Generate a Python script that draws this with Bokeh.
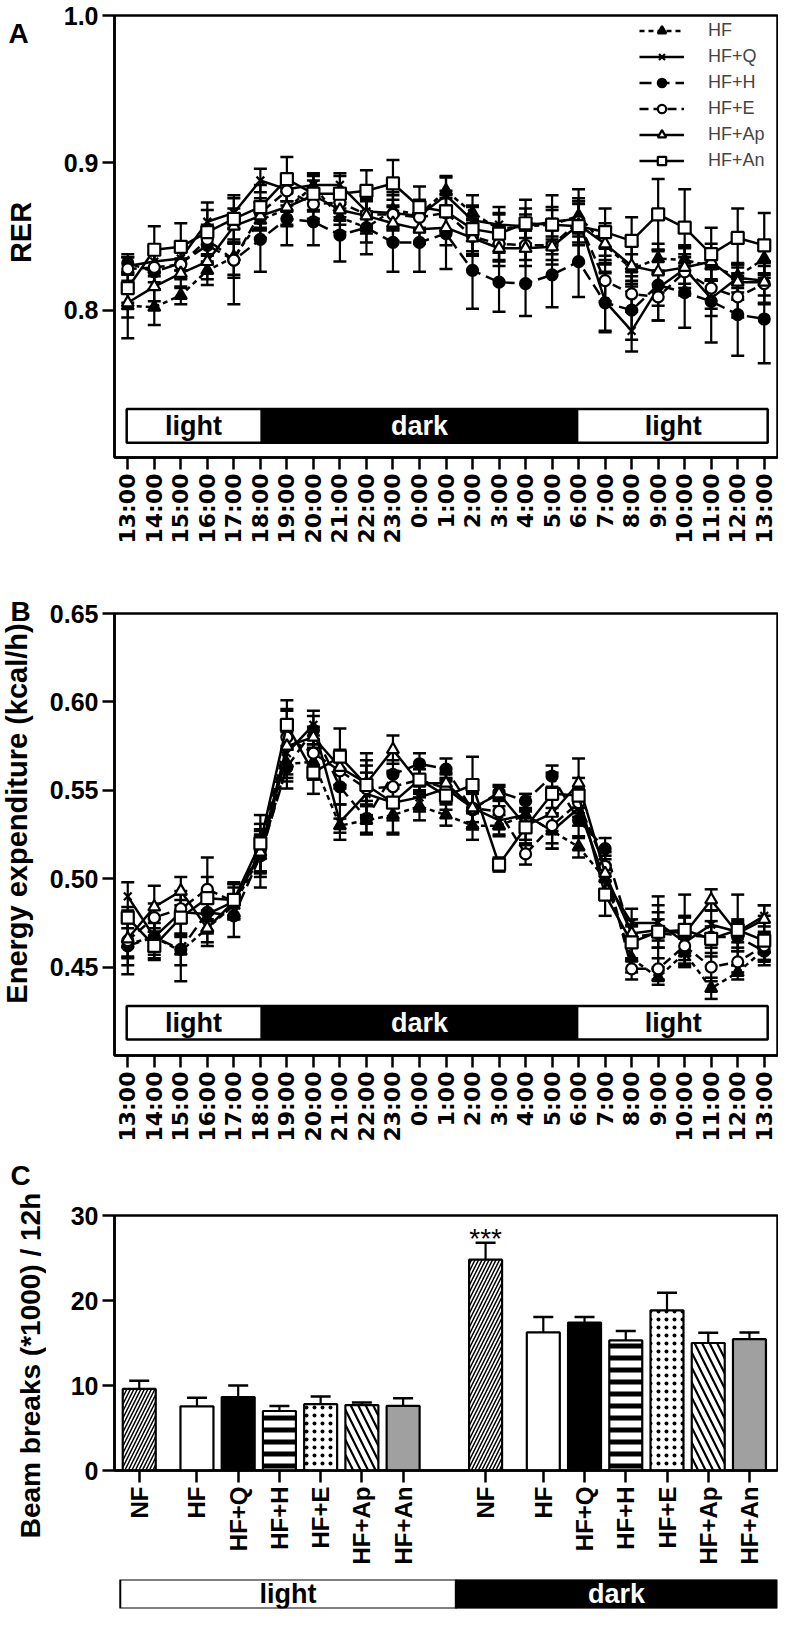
import math
from bokeh.plotting import figure
from bokeh.models import (ColumnDataSource, FixedTicker, Range1d, Legend,
                          LegendItem, NumeralTickFormatter)
from bokeh.layouts import column, row
from bokeh.embed import file_html
from bokeh.resources import INLINE
from bokeh.core.properties import value

# ---------------- data ----------------
times = ["13:00", "14:00", "15:00", "16:00", "17:00", "18:00", "19:00", "20:00",
         "21:00", "22:00", "23:00", "0:00", "1:00", "2:00", "3:00", "4:00", "5:00",
         "6:00", "7:00", "8:00", "9:00", "10:00", "11:00", "12:00", "13:00"]
series_names = ["HF", "HF+Q", "HF+H", "HF+E", "HF+Ap", "HF+An"]
period_names = ["light", "dark", "light"]
period_bounds = [0, 5, 17, 24]   # indices of 13:00, 18:00, 6:00, 13:00

rer_hf = [0.803, 0.802, 0.810, 0.827, 0.836, 0.861, 0.869, 0.884, 0.863, 0.856, 0.868, 0.865, 0.881,
          0.866, 0.855, 0.857, 0.858, 0.864, 0.844, 0.828, 0.835, 0.834, 0.830, 0.823, 0.835]
rer_hfq = [0.830, 0.833, 0.835, 0.860, 0.866, 0.888, 0.882, 0.885, 0.885, 0.867, 0.866, 0.864, 0.878,
           0.861, 0.858, 0.857, 0.860, 0.862, 0.806, 0.786, 0.815, 0.828, 0.808, 0.822, 0.820]
rer_hfh = [0.832, 0.826, 0.832, 0.844, 0.834, 0.848, 0.862, 0.860, 0.851, 0.856, 0.846, 0.846, 0.852,
           0.827, 0.819, 0.818, 0.824, 0.833, 0.805, 0.800, 0.817, 0.812, 0.806, 0.797, 0.794]
rer_hfe = [0.828, 0.829, 0.831, 0.848, 0.834, 0.866, 0.881, 0.872, 0.873, 0.865, 0.865, 0.863, 0.866,
           0.850, 0.845, 0.844, 0.844, 0.860, 0.820, 0.811, 0.809, 0.826, 0.815, 0.809, 0.818]
rer_hfap = [0.805, 0.816, 0.825, 0.833, 0.857, 0.864, 0.870, 0.878, 0.868, 0.864, 0.859, 0.855, 0.856,
            0.849, 0.842, 0.842, 0.843, 0.858, 0.845, 0.830, 0.826, 0.829, 0.833, 0.819, 0.819]
rer_hfan = [0.815, 0.841, 0.843, 0.853, 0.862, 0.870, 0.889, 0.879, 0.879, 0.881, 0.886, 0.870, 0.867,
            0.855, 0.852, 0.859, 0.858, 0.857, 0.853, 0.847, 0.865, 0.856, 0.838, 0.849, 0.844]

rer_hf_err = [0.022, 0.012, 0.006, 0.010, 0.012, 0.012, 0.012, 0.008, 0.010, 0.010, 0.012, 0.010, 0.010,
              0.012, 0.010, 0.012, 0.010, 0.012, 0.012, 0.010, 0.010, 0.010, 0.010, 0.008, 0.010]
rer_hfq_err = [0.006, 0.010, 0.008, 0.008, 0.010, 0.008, 0.008, 0.008, 0.008, 0.010, 0.012, 0.010, 0.012,
               0.010, 0.008, 0.008, 0.010, 0.012, 0.020, 0.014, 0.012, 0.010, 0.012, 0.010, 0.010]
rer_hfh_err = [0.006, 0.012, 0.010, 0.012, 0.030, 0.022, 0.018, 0.016, 0.018, 0.018, 0.020, 0.020, 0.024,
               0.026, 0.020, 0.022, 0.022, 0.024, 0.020, 0.020, 0.024, 0.024, 0.028, 0.028, 0.030]
rer_hfe_err = [0.008, 0.010, 0.010, 0.010, 0.012, 0.010, 0.010, 0.010, 0.010, 0.010, 0.010, 0.010, 0.012,
               0.012, 0.012, 0.010, 0.010, 0.014, 0.014, 0.012, 0.016, 0.016, 0.014, 0.014, 0.014]
rer_hfap_err = [0.010, 0.010, 0.010, 0.012, 0.012, 0.010, 0.012, 0.010, 0.010, 0.012, 0.012, 0.010, 0.012,
                0.012, 0.012, 0.012, 0.012, 0.014, 0.014, 0.014, 0.014, 0.014, 0.012, 0.012, 0.014]
rer_hfan_err = [0.010, 0.016, 0.016, 0.020, 0.016, 0.015, 0.015, 0.012, 0.012, 0.014, 0.016, 0.014, 0.014,
                0.015, 0.018, 0.016, 0.020, 0.025, 0.016, 0.016, 0.024, 0.026, 0.018, 0.020, 0.022]

ee_hf = [0.463, 0.467, 0.459, 0.472, 0.485, 0.513, 0.565, 0.566, 0.530, 0.533, 0.536, 0.541, 0.536,
         0.530, 0.530, 0.536, 0.527, 0.518, 0.500, 0.455, 0.444, 0.458, 0.438, 0.447, 0.460]
ee_hfq = [0.490, 0.467, 0.481, 0.480, 0.487, 0.514, 0.571, 0.587, 0.532, 0.548, 0.543, 0.546, 0.551,
          0.540, 0.533, 0.536, 0.527, 0.540, 0.499, 0.475, 0.475, 0.464, 0.474, 0.470, 0.479]
ee_hfh = [0.462, 0.467, 0.460, 0.481, 0.479, 0.513, 0.563, 0.584, 0.552, 0.534, 0.559, 0.565, 0.562,
          0.539, 0.549, 0.544, 0.558, 0.533, 0.517, 0.467, 0.469, 0.468, 0.467, 0.467, 0.459]
ee_hfe = [0.465, 0.478, 0.483, 0.494, 0.487, 0.516, 0.580, 0.571, 0.561, 0.551, 0.552, 0.556, 0.551,
          0.540, 0.538, 0.514, 0.530, 0.543, 0.507, 0.449, 0.449, 0.462, 0.450, 0.453, 0.462]
ee_hfap = [0.466, 0.484, 0.493, 0.472, 0.487, 0.515, 0.575, 0.580, 0.563, 0.554, 0.573, 0.554, 0.554,
           0.540, 0.548, 0.530, 0.537, 0.554, 0.503, 0.469, 0.471, 0.469, 0.488, 0.469, 0.477]
ee_hfan = [0.478, 0.462, 0.478, 0.489, 0.488, 0.520, 0.587, 0.560, 0.569, 0.553, 0.543, 0.556, 0.547,
           0.553, 0.508, 0.529, 0.548, 0.547, 0.491, 0.464, 0.470, 0.471, 0.466, 0.471, 0.465]

ee_hf_err = [0.012, 0.008, 0.008, 0.008, 0.006, 0.012, 0.008, 0.010, 0.004, 0.008, 0.010, 0.008, 0.006,
             0.008, 0.006, 0.008, 0.010, 0.006, 0.008, 0.008, 0.004, 0.008, 0.006, 0.004, 0.006]
ee_hfq_err = [0.008, 0.012, 0.012, 0.010, 0.008, 0.010, 0.012, 0.008, 0.010, 0.012, 0.010, 0.008, 0.008,
              0.008, 0.008, 0.008, 0.010, 0.010, 0.006, 0.008, 0.010, 0.010, 0.008, 0.006, 0.006]
ee_hfh_err = [0.016, 0.010, 0.018, 0.012, 0.012, 0.018, 0.012, 0.008, 0.010, 0.008, 0.008, 0.006, 0.006,
              0.010, 0.004, 0.004, 0.006, 0.010, 0.006, 0.006, 0.008, 0.010, 0.006, 0.008, 0.006]
ee_hfe_err = [0.010, 0.008, 0.008, 0.018, 0.010, 0.012, 0.016, 0.010, 0.010, 0.016, 0.008, 0.006, 0.006,
              0.012, 0.010, 0.006, 0.010, 0.008, 0.008, 0.006, 0.006, 0.010, 0.008, 0.006, 0.008]
ee_hfap_err = [0.010, 0.012, 0.008, 0.010, 0.010, 0.012, 0.020, 0.006, 0.010, 0.010, 0.008, 0.008, 0.006,
               0.012, 0.004, 0.008, 0.010, 0.014, 0.010, 0.008, 0.010, 0.010, 0.006, 0.008, 0.008]
ee_hfan_err = [0.006, 0.008, 0.010, 0.012, 0.010, 0.016, 0.014, 0.012, 0.016, 0.018, 0.018, 0.008, 0.008,
               0.016, 0.004, 0.010, 0.012, 0.010, 0.012, 0.010, 0.020, 0.020, 0.010, 0.020, 0.014]

beam_groups = ["NF", "HF", "HF+Q", "HF+H", "HF+E", "HF+Ap", "HF+An"]
beam_light = [9.6, 7.55, 8.65, 7.0, 7.8, 7.7, 7.6]
beam_light_err = [0.95, 1.0, 1.35, 0.6, 0.9, 0.3, 0.9]
beam_dark = [24.8, 16.25, 17.4, 15.3, 18.85, 15.0, 15.45]
beam_dark_err = [2.0, 1.8, 0.65, 1.1, 2.05, 1.2, 0.8]
beam_sig_dark = ["***", "", "", "", "", "", ""]

panel_letters = ["A", "B", "C"]
axis_titles = ["RER", "Energy expenditure (kcal/h)", "Beam breaks (*1000) / 12h"]

# ---------------- styling ----------------
FONT = "Liberation Sans"
TFONT = "DejaVu Sans"
LW = 2.5
LEFT_W = 46          # width of the column holding panel letters and y titles
BORDER_L = 67        # left border of the plotting figures
MAIN_W = 732

series_style = {
    "HF":    dict(marker="triangle", fill="black", dash="5 4", size=12),
    "HF+Q":  dict(marker="x", fill="black", dash="solid", size=11),
    "HF+H":  dict(marker="circle", fill="black", dash="12 6", size=11),
    "HF+E":  dict(marker="circle", fill="white", dash="9 5", size=11),
    "HF+Ap": dict(marker="triangle", fill="white", dash="solid", size=12),
    "HF+An": dict(marker="square", fill="white", dash="solid", size=12),
}


def base_axes(p):
    p.outline_line_color = "black"
    p.outline_line_width = LW
    p.outline_line_alpha = 1
    p.xgrid.visible = False
    p.ygrid.visible = False
    for ax in p.axis:
        ax.axis_line_width = LW
        ax.major_tick_line_width = LW
        ax.major_tick_out = 12
        ax.major_tick_in = 0
        ax.minor_tick_line_color = None
        ax.major_label_text_font = FONT
        ax.major_label_text_font_style = "bold"
        ax.major_label_text_font_size = "25px"
        ax.major_label_text_color = "black"
        ax.major_label_standoff = 4


def period_bar(p, y0, y1, pad_left, pad_right):
    lefts, rights = [], []
    for k in range(len(period_names)):
        lefts.append(period_bounds[k] - (pad_left if k == 0 else 0))
        rights.append(period_bounds[k + 1] + (pad_right if k == len(period_names) - 1 else 0))
    fills = ["white" if n == "light" else "black" for n in period_names]
    tcols = ["black" if n == "light" else "white" for n in period_names]
    src = ColumnDataSource(dict(left=lefts, right=rights, fill=fills, tc=tcols,
                                xm=[(a + b) / 2 for a, b in zip(lefts, rights)],
                                ym=[(y0 + y1) / 2] * len(lefts), name=period_names))
    p.quad(left="left", right="right", bottom=y0, top=y1, fill_color="fill",
           line_color=None, source=src)
    p.quad(left=[lefts[0]], right=[rights[-1]], bottom=[y0], top=[y1], fill_color=None,
           line_color="black", line_width=LW)
    p.text(x="xm", y="ym", text="name", text_color="tc", source=src,
           text_font=value(FONT), text_font_style="bold", text_font_size="27px",
           text_align="center", text_baseline="middle")


def line_panel(values, errors, y_range, yticks, yfmt, height, top, bottom, bar_y,
               legend=False):
    p = figure(width=MAIN_W, height=height, x_range=Range1d(-0.5, 24.5), y_range=y_range,
               output_backend="svg", toolbar_location=None,
               min_border_left=BORDER_L, min_border_right=1, min_border_top=top,
               min_border_bottom=bottom, background_fill_color="white",
               border_fill_color="white")
    base_axes(p)
    p.xaxis.ticker = FixedTicker(ticks=list(range(len(times))))
    p.xaxis.major_label_overrides = {i: t for i, t in enumerate(times)}
    p.xaxis.major_label_orientation = math.pi / 2
    p.xaxis.major_label_text_font = TFONT
    p.xaxis.major_label_text_font_size = "22px"
    p.yaxis.ticker = FixedTicker(ticks=yticks)
    p.yaxis.formatter = NumeralTickFormatter(format=yfmt)

    period_bar(p, bar_y[0], bar_y[1], 0.04, 0.13)

    xs = list(range(len(times)))
    items = []
    for name, vals, errs in zip(series_names, values, errors):
        lo = [v - e for v, e in zip(vals, errs)]
        hi = [v + e for v, e in zip(vals, errs)]
        src = ColumnDataSource(dict(x=xs, y=vals, lo=lo, hi=hi))
        p.segment(x0="x", x1="x", y0="lo", y1="hi", line_color="black", line_width=2.2, source=src)
        p.scatter(x="x", y="hi", marker="dash", size=13, line_color="black", line_width=2.5, source=src)
        p.scatter(x="x", y="lo", marker="dash", size=13, line_color="black", line_width=2.5, source=src)
    for name, vals in zip(series_names, values):
        st = series_style[name]
        src = ColumnDataSource(dict(x=xs, y=vals))
        lr = p.line(x="x", y="y", line_color="black", line_width=LW, line_dash=st["dash"], source=src)
        mr = p.scatter(x="x", y="y", marker=st["marker"], size=st["size"], fill_color=st["fill"],
                       line_color="black", line_width=2.2, source=src)
        items.append(LegendItem(label=name, renderers=[lr, mr]))
    if legend:
        leg = Legend(items=items, location=(525, 286), border_line_color=None,
                     background_fill_alpha=0, glyph_width=45, glyph_height=21,
                     label_height=21, label_standoff=24, spacing=5, padding=0, margin=0,
                     label_text_font=FONT, label_text_font_size="18px")
        p.add_layout(leg)
    return p


# panel A and B: frames 442 px high
pA = line_panel([rer_hf, rer_hfq, rer_hfh, rer_hfe, rer_hfap, rer_hfan],
                [rer_hf_err, rer_hfq_err, rer_hfh_err, rer_hfe_err, rer_hfap_err, rer_hfan_err],
                Range1d(0.7, 1.0), [0.8, 0.9, 1.0], "0.0", 590, 15, 133, (0.710, 0.733),
                legend=True)
pB = line_panel([ee_hf, ee_hfq, ee_hfh, ee_hfe, ee_hfap, ee_hfan],
                [ee_hf_err, ee_hfq_err, ee_hfh_err, ee_hfe_err, ee_hfap_err, ee_hfan_err],
                Range1d(0.40, 0.65), [0.45, 0.50, 0.55, 0.60, 0.65], "0.00", 605, 23, 140,
                (0.409, 0.428))

# ---------------- panel C ----------------
bar_offsets = [0, 1.4, 2.4, 3.4, 4.4, 5.4, 6.4]
group_starts = [0, 8.4]
cx_range = Range1d(-0.6, 15.48)
pC = figure(width=MAIN_W, height=377, x_range=cx_range, y_range=Range1d(0, 30),
            output_backend="svg", toolbar_location=None,
            min_border_left=BORDER_L, min_border_right=1, min_border_top=20, min_border_bottom=102,
            background_fill_color="white", border_fill_color="white")
base_axes(pC)
pC.yaxis.ticker = FixedTicker(ticks=[0, 10, 20, 30])
pC.xaxis.major_label_text_font_size = "24px"

bar_style = {
    "NF":    dict(fill="white", hatch="/", scale=7.0, weight=1.5),
    "HF":    dict(fill="white", hatch=" ", scale=10.0, weight=1.0),
    "HF+Q":  dict(fill="black", hatch=" ", scale=10.0, weight=1.0),
    "HF+H":  dict(fill="white", hatch="-", scale=12.0, weight=5.0),
    "HF+E":  dict(fill="white", hatch=".", scale=8.0, weight=1.2),
    "HF+Ap": dict(fill="white", hatch="\\", scale=15.0, weight=2.2),
    "HF+An": dict(fill="#a0a0a0", hatch=" ", scale=10.0, weight=1.0),
}

xs_c, tops, errs, labels, sig = [], [], [], [], []
for g0, vals, ers, sg in [(group_starts[0], beam_light, beam_light_err, [""] * 7),
                          (group_starts[1], beam_dark, beam_dark_err, beam_sig_dark)]:
    for off, name, v, e, s in zip(bar_offsets, beam_groups, vals, ers, sg):
        xs_c.append(g0 + off)
        tops.append(v)
        errs.append(e)
        labels.append(name)
        sig.append(s)
csrc = ColumnDataSource(dict(
    x=xs_c, top=tops, hi=[t + e for t, e in zip(tops, errs)], name=labels, sig=sig,
    fill=[bar_style[n]["fill"] for n in labels],
    hatch=[bar_style[n]["hatch"] for n in labels],
    hscale=[bar_style[n]["scale"] for n in labels],
    hweight=[bar_style[n]["weight"] for n in labels]))
pC.segment(x0="x", x1="x", y0="top", y1="hi", line_color="black", line_width=2.2, source=csrc)
pC.scatter(x="x", y="hi", marker="dash", size=20, line_color="black", line_width=2.5, source=csrc)
pC.vbar(x="x", top="top", bottom=0, width=0.8, fill_color="fill", line_color="black",
        line_width=2.2, hatch_pattern="hatch", hatch_scale="hscale", hatch_weight="hweight",
        hatch_color="black", source=csrc)
pC.text(x="x", y="hi", text="sig", source=csrc, text_font=value(FONT), text_font_size="28px",
        text_align="center", text_baseline="alphabetic", y_offset=-4, text_color="black")
pC.xaxis.ticker = FixedTicker(ticks=xs_c)
pC.xaxis.major_label_overrides = {x: n for x, n in zip(xs_c, labels)}
pC.xaxis.major_label_orientation = math.pi / 2

# strip under panel C
pS = figure(width=MAIN_W, height=37, x_range=cx_range, y_range=Range1d(0, 1),
            output_backend="svg", toolbar_location=None, x_axis_location=None,
            y_axis_location=None, min_border_left=BORDER_L, min_border_right=1,
            min_border_top=7, min_border_bottom=1, outline_line_color=None,
            background_fill_color="white", border_fill_color="white")
pS.xgrid.visible = False
pS.ygrid.visible = False
strip_left = [group_starts[0] - 0.46, group_starts[1] - 0.72]
strip_right = [group_starts[1] - 0.72, group_starts[1] + bar_offsets[-1] + 0.67]
strip_names = ["light", "dark"]
ssrc = ColumnDataSource(dict(left=strip_left, right=strip_right,
                             fill=["white", "black"], tc=["black", "white"],
                             xm=[(a + b) / 2 for a, b in zip(strip_left, strip_right)],
                             name=strip_names))
pS.quad(left="left", right="right", bottom=0, top=1, fill_color="fill", line_color="black",
        line_width=2, source=ssrc)
pS.text(x="xm", y=0.5, text="name", text_color="tc", source=ssrc, text_font=value(FONT),
        text_font_style="bold", text_font_size="27px", text_align="center",
        text_baseline="middle")

# ---------------- left column: panel letters and y-axis titles ----------------
total_h = 590 + 605 + 377 + 37
pL = figure(width=LEFT_W, height=total_h, x_range=Range1d(0, LEFT_W),
            y_range=Range1d(total_h, 0), output_backend="svg", toolbar_location=None,
            x_axis_location=None, y_axis_location=None, min_border=0,
            outline_line_color=None, background_fill_color="white",
            border_fill_color="white")
pL.xgrid.visible = False
pL.ygrid.visible = False
pL.text(x=[8, 10, 10], y=[33, 611, 1175], text=panel_letters, text_font=value(FONT),
        text_font_style="bold", text_font_size="28px", text_align="left",
        text_baseline="alphabetic", text_color="black")
title_src = ColumnDataSource(dict(x=[20, 16, 30], y=[232, 813, 1365], text=axis_titles,
                                  size=["29px", "29px", "28px"]))
pL.text(x="x", y="y", text="text", source=title_src, angle=math.pi / 2,
        text_font=value(FONT), text_font_style="bold", text_font_size="size",
        text_align="center", text_baseline="middle", text_color="black")

layout = row(pL, column(pA, pB, pC, pS, spacing=0), spacing=0)
open("out.html", "w").write(file_html(layout, INLINE))
